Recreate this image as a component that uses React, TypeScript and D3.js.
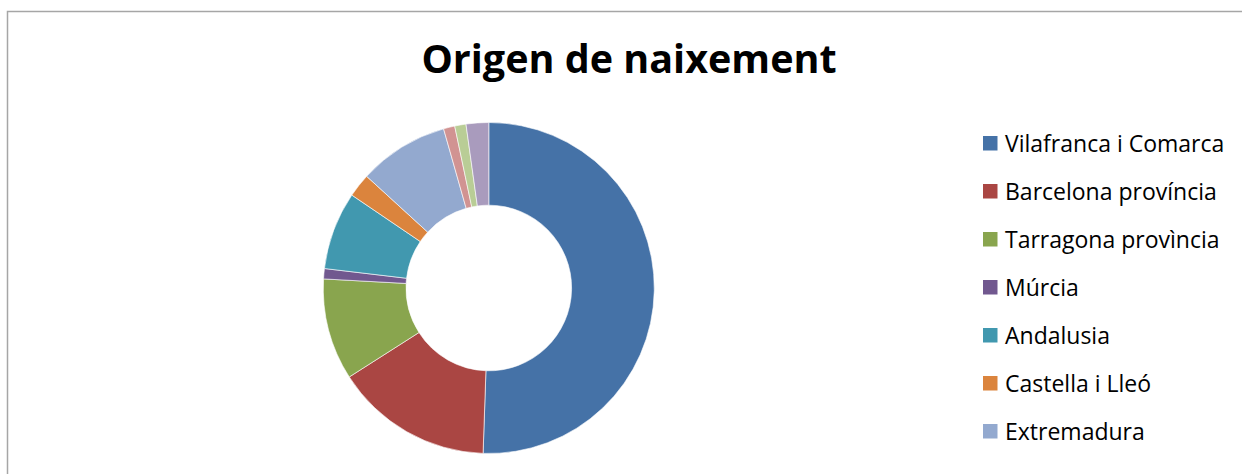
import React, { useEffect, useRef } from 'react';
import * as d3 from 'd3';

const categories = [
  'Vilafranca i Comarca',
  'Barcelona província',
  'Tarragona provìncia',
  'Múrcia',
  'Andalusia',
  'Castella i Lleó',
  'Extremadura',
  'Galícia',
  'Aragó',
  'Altres',
];
const values = [50.5, 15.4, 9.9, 1.0, 7.6, 2.3, 8.8, 1.1, 1.1, 2.2];
const colors = [
  '#4572A7', '#AA4643', '#89A54E', '#71588F', '#4198AF',
  '#DB843D', '#93A9CF', '#D19392', '#B9CD96', '#A99BBD',
];
// only the first seven legend entries fit in the chart frame
const visibleLegend = 7;

const App: React.FC = () => {
  const svgRef = useRef<SVGSVGElement>(null);

  useEffect(() => {
    if (!svgRef.current) return;
    const svg = d3.select(svgRef.current);
    svg.selectAll('*').remove();

    const width = 1242;
    const height = 474;
    const cx = 488.8;
    const cy = 288;
    const outer = 165.5;
    const inner = 82.8;

    svg.append('rect')
      .attr('width', width)
      .attr('height', height)
      .attr('fill', '#fff');

    // chart frame (left + top visible)
    svg.append('path')
      .attr('d', `M7.5,${height} V11.5 H${width}`)
      .attr('fill', 'none')
      .attr('stroke', '#a6a6a6')
      .attr('stroke-width', 1.5);

    svg.append('text')
      .attr('x', 629)
      .attr('y', 73)
      .attr('text-anchor', 'middle')
      .style('font-family', '"Open Sans", Lato, sans-serif')
      .style('font-weight', 'bold')
      .style('font-size', '39.5px')
      .style('fill', '#000')
      .text('Origen de naixement');

    const pie = d3.pie<number>().sort(null).value(d => d);
    const arc = d3.arc<d3.PieArcDatum<number>>()
      .innerRadius(inner)
      .outerRadius(outer);

    const g = svg.append('g').attr('transform', `translate(${cx},${cy})`);
    g.selectAll('path')
      .data(pie(values))
      .enter()
      .append('path')
      .attr('d', arc)
      .attr('fill', (d, i) => colors[i])
      .attr('stroke', '#fff')
      .attr('stroke-width', 0.6);

    // Legend
    const legend = svg.append('g').attr('transform', 'translate(983, 143.5)');
    categories.slice(0, visibleLegend).forEach((name, i) => {
      const row = legend.append('g').attr('transform', `translate(0, ${i * 48})`);
      row.append('rect')
        .attr('x', 0)
        .attr('y', -7.5)
        .attr('width', 14.5)
        .attr('height', 14.5)
        .attr('fill', colors[i]);
      row.append('text')
        .attr('x', 22)
        .attr('y', 0)
        .attr('dy', '0.36em')
        .style('font-family', '"Open Sans", Lato, sans-serif')
        .style('font-size', '23px')
        .style('fill', '#000')
        .text(name);
    });
  }, []);

  return (
    <svg
      ref={svgRef}
      width={1242}
      height={474}
      style={{ position: 'absolute', left: 0, top: 0, display: 'block' }}
    />
  );
};

export default App;
